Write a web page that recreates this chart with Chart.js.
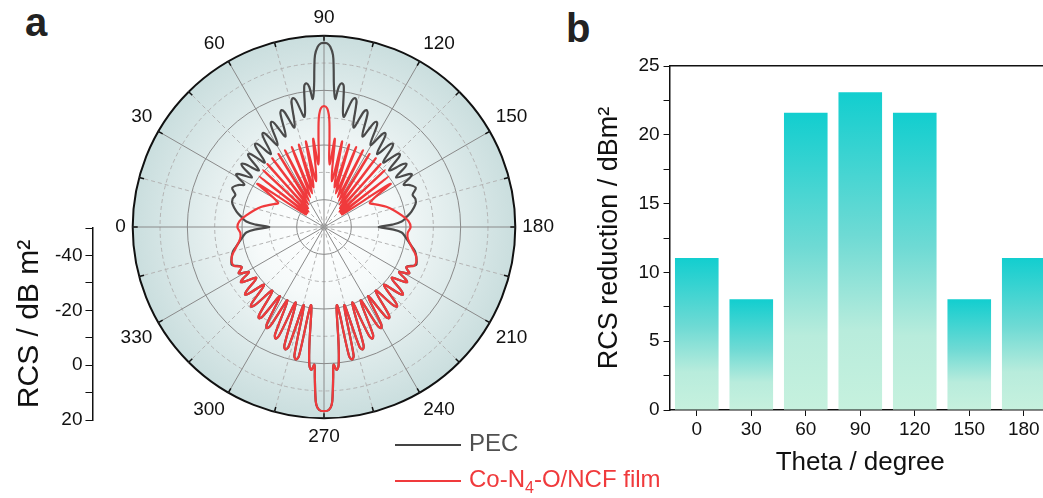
<!DOCTYPE html>
<html>
<head>
<meta charset="utf-8">
<script src="https://cdn.jsdelivr.net/npm/chart.js@4"></script>
<style>
  body { margin: 0; width: 1043px; height: 498px; overflow: hidden; background: #fff; font-family: 'Liberation Sans', Arial, sans-serif; }
  canvas { position: absolute; }
  .panel { position: absolute; font-weight: bold; font-size: 40px; color: #222; }
  .leg { position: absolute; left: 395px; font-size: 24px; line-height: 28px; white-space: nowrap; }
  .leg .ln { display: inline-block; width: 66px; height: 2px; vertical-align: middle; margin-right: 8px; }
  .leg sub { font-size: 16px; vertical-align: -6px; line-height: 0; }
</style>
</head>
<body>
<div class="panel" style="left:25px;top:0px">a</div>
<div class="panel" style="left:566px;top:6px">b</div>
<canvas id="polar" width="460" height="460" style="left:105px;top:-2px"></canvas>
<canvas id="side" width="220" height="245" style="left:0px;top:200px"></canvas>
<canvas id="bars" width="480" height="450" style="left:580px;top:40px"></canvas>
<div class="leg" style="top:429px"><span class="ln" style="background:#444"></span><span style="color:#505050">PEC</span></div>
<div class="leg" style="top:465px"><span class="ln" style="background:#f03a3c"></span><span style="color:#f03a3c">Co-N<sub>4</sub>-O/NCF film</span></div>

<script>
Chart.defaults.font.family = "'Liberation Sans', Arial, sans-serif";
Chart.defaults.color = '#111';

// polar panel (a)
const thetaTicks = [0, 30, 60, 90, 120, 150, 180, 210, 240, 270, 300, 330];
const rcsMin = -50;
const rcsMax = 20;
const rcsLabelled = [-40, -20, 0, 20];

// Co-N4-O/NCF film, points as [theta deg, RCS dB m2]
const filmUpperLeft = [
  [0, -18.3], [4, -19], [8, -21], [13, -23.5], [18, -26], [23, -29], [28, -31],
  [33, -21], [35.5, -42], [38, -20], [40.5, -42], [43, -19.5], [45.5, -42], [48, -19], [50.5, -41],
  [53, -18.5], [55.5, -40], [58, -18.5], [60.5, -39], [63, -18.5], [65.5, -38], [68, -18.5], [70.5, -37],
  [73, -18.5], [75.5, -35], [78, -18], [80.5, -33], [83, -17.5], [85, -27],
  [86.5, -17], [87, -12], [87.5, -9], [88.5, -6.5], [90, -5.8]
];
const filmUpperRight = [
  [91.5, -6.5], [92.5, -9], [93, -12], [93.5, -17], [95, -27], [97, -17.5], [99.5, -33], [102, -18],
  [104.5, -35], [107, -18.5], [109.5, -37], [112, -18.5], [114.5, -38], [117, -18.5], [119.5, -39],
  [122, -18.5], [124.5, -40], [127, -18.5], [129.5, -41], [132, -19], [134.5, -42], [137, -19.5],
  [139.5, -42], [142, -20], [144.5, -42], [147, -21],
  [152, -31], [157, -29], [162, -26], [167, -23.5], [172, -21], [176, -19], [180, -18.3]
];
const filmLowerRight = [
  [184, -19.3], [188, -19], [193, -17], [198, -14.5], [203, -14], [206, -16.5], [208.5, -14.5], [211, -18],
  [212.5, -14.8], [213.5, -13.5], [214.5, -14.8], [217, -19],
  [219.5, -13.3], [220.5, -12], [221.5, -13.3], [224, -19.5],
  [226.5, -11.8], [227.5, -10.5], [228.5, -11.8], [231, -20],
  [233.5, -10.3], [234.5, -9], [235.5, -10.3], [237.5, -20],
  [239.5, -8.8], [240.5, -7.5], [241.5, -8.8], [243.5, -20],
  [245.5, -6.8], [246.5, -5.5], [247.5, -6.8], [249.5, -20.5],
  [251.5, -4.3], [252.5, -3], [253.5, -4.3], [255.5, -20.5],
  [257, -1.8], [258, -0.5], [259, -1.8], [260.5, -21],
  [263, -6], [264, 1], [265, 2.5], [266, 0.5], [266.5, 5], [267, 11], [267.5, 15], [268.5, 17], [270, 17.4]
];
const filmLowerLeft = [
  [271.5, 17], [272.5, 15], [273, 11], [273.5, 5], [274, 0.5], [275, 2.5], [276, 1], [277, -6],
  [279.5, -21], [281, -1.8], [282, -0.5], [283, -1.8],
  [284.5, -20.5], [286.5, -4.3], [287.5, -3], [288.5, -4.3],
  [290.5, -20.5], [292.5, -6.8], [293.5, -5.5], [294.5, -6.8],
  [296.5, -20], [298.5, -8.8], [299.5, -7.5], [300.5, -8.8],
  [302.5, -20], [304.5, -10.3], [305.5, -9], [306.5, -10.3],
  [309, -20], [311.5, -11.8], [312.5, -10.5], [313.5, -11.8],
  [316, -19.5], [318.5, -13.3], [319.5, -12], [320.5, -13.3],
  [323, -19], [325.5, -14.8], [326.5, -13.5], [327.5, -14.8],
  [329, -18], [331.5, -14.5], [334, -16.5], [337, -14], [342, -14.5], [347, -17], [352, -19], [356, -19.3]
];

// PEC, read off the grey curve where it is not hidden under the red one
const pecUpperLeft = [
  [0, -30], [2, -25], [4, -21.5], [7, -19.5], [10, -17.5], [14, -15.5], [17, -15], [20, -15.5], [23, -13.5], [26, -15], [28, -17],
  [30, -13.5], [31, -12.5], [32, -13.5], [34.5, -18],
  [36.5, -13], [37.5, -12], [38.5, -13], [41, -18.5],
  [43, -12.5], [44, -11.5], [45, -12.5], [47.5, -18],
  [49.5, -11.5], [50.5, -10.5], [51.5, -11.5], [54, -17],
  [56, -10], [57, -9], [58, -10], [60.5, -15.5],
  [62.5, -8], [63.5, -7], [64.5, -8], [67, -14],
  [69, -5.5], [70, -4.5], [71, -5.5], [73.5, -12],
  [75.5, -2.5], [76.5, -1.5], [77.5, -2.5], [80, -9],
  [82, 2], [83, 3], [84, 1.5], [85, -3],
  [86, 2], [86.5, 8], [87, 13], [88, 16], [89, 17.2], [90, 17.4]
];
const pecUpperRight = [
  [91, 17.2], [92, 16], [93, 13], [93.5, 8], [94, 2],
  [95, -3], [96, 1.5], [97, 3], [98, 2],
  [100, -9], [102.5, -2.5], [103.5, -1.5], [104.5, -2.5],
  [106.5, -12], [109, -5.5], [110, -4.5], [111, -5.5],
  [113, -14], [115.5, -8], [116.5, -7], [117.5, -8],
  [119.5, -15.5], [122, -10], [123, -9], [124, -10],
  [126, -17], [128.5, -11.5], [129.5, -10.5], [130.5, -11.5],
  [132.5, -18], [135, -12.5], [136, -11.5], [137, -12.5],
  [139, -18.5], [141.5, -13], [142.5, -12], [143.5, -13],
  [145.5, -18], [148, -13.5], [149, -12.5], [150, -13.5],
  [152, -17], [154, -15], [157, -13.5], [160, -15.5], [163, -15], [166, -15.5], [170, -17.5], [173, -19.5], [176, -21.5], [178, -25], [180, -30]
];
const pecLowerSides = [
  [182, -25], [184, -21.5], [187, -20], [191, -18], [195, -15.5], [199, -14.2], [202, -13.5],
  [338, -13.5], [341, -14.2], [345, -15.5], [349, -18], [353, -20], [356, -21.5], [358, -25]
];
// between these angles the PEC trace runs under the red one
const pecHiddenFrom = 203;
const pecHiddenTo = 337;

// bar panel (b)
const barTheta = ['0', '30', '60', '90', '120', '150', '180'];
const barReduction = [11.05, 8.05, 21.6, 23.1, 21.6, 8.05, 11.05];

const STEP = 0.5;
const slotCount = 360 / STEP;
const angleLabels = Array.from({ length: slotCount }, (_, i) => i * STEP);

function toSlots(points) {
  const out = new Array(slotCount).fill(null);
  points.forEach(([d, v]) => { out[Math.round(d / STEP) % slotCount] = v; });
  return out;
}

const filmPoints = [...filmUpperLeft, ...filmUpperRight, ...filmLowerRight, ...filmLowerLeft];
const pecPoints = [...pecUpperLeft, ...pecUpperRight, ...pecLowerSides,
  ...filmPoints.filter(([d]) => d >= pecHiddenFrom && d <= pecHiddenTo)];

const polarDecor = {
  id: 'polarDecor',
  beforeDraw(chart) {
    const s = chart.scales.r;
    const ctx = chart.ctx;
    const g = ctx.createRadialGradient(s.xCenter, s.yCenter, 0, s.xCenter, s.yCenter, s.drawingArea);
    g.addColorStop(0, '#ffffff');
    g.addColorStop(0.35, '#f6fafa');
    g.addColorStop(1, '#cadede');
    ctx.save();
    ctx.beginPath();
    ctx.arc(s.xCenter, s.yCenter, s.drawingArea, 0, Math.PI * 2);
    ctx.fillStyle = g;
    ctx.fill();
    ctx.restore();
  },
  afterDraw(chart) {
    const s = chart.scales.r;
    const ctx = chart.ctx;
    ctx.save();
    ctx.strokeStyle = '#111';
    ctx.lineWidth = 1.5;
    for (let d = 0; d < 360; d += 15) {
      const a = s.getPointPosition(d / STEP, s.drawingArea);
      const b = s.getPointPosition(d / STEP, s.drawingArea - 5);
      ctx.beginPath();
      ctx.moveTo(a.x, a.y);
      ctx.lineTo(b.x, b.y);
      ctx.stroke();
    }
    ctx.restore();
  }
};

new Chart(document.getElementById('polar'), {
  type: 'radar',
  data: {
    labels: angleLabels,
    datasets: [
      { label: 'PEC', data: toSlots(pecPoints), borderColor: '#4a4a4a', borderWidth: 2.2, order: 1 },
      { label: 'Co-N4-O/NCF film', data: toSlots(filmPoints), borderColor: '#f03a3c', borderWidth: 2.2, order: 0 }
    ]
  },
  options: {
    responsive: false,
    animation: false,
    events: [],
    plugins: { legend: { display: false }, tooltip: { enabled: false } },
    elements: {
      point: { radius: 0 },
      line: { tension: 0.35, fill: false, spanGaps: true }
    },
    datasets: { radar: { spanGaps: true } },
    scales: {
      r: {
        min: rcsMin,
        max: rcsMax,
        startAngle: 270,
        ticks: { display: false, stepSize: 10 },
        grid: {
          circular: true,
          color: c => c.tick.value === rcsMax ? '#111' : (rcsLabelled.includes(c.tick.value) ? '#8a8a8a' : '#b4b4b4'),
          lineWidth: c => c.tick.value === rcsMax ? 2 : 1
        },
        border: {
          dash: c => (c.tick && !rcsLabelled.includes(c.tick.value)) ? [4, 3] : []
        },
        angleLines: {
          color: c => c.index % (30 / STEP) === 0 ? '#8a8a8a' : '#b4b4b4',
          lineWidth: c => c.index % (15 / STEP) === 0 ? 1 : 0,
          borderDash: c => c.index % (30 / STEP) === 0 ? [] : [4, 3]
        },
        pointLabels: {
          padding: 7,
          color: '#111',
          font: { size: 19 },
          callback: label => thetaTicks.includes(label) ? String(label) : ''
        }
      }
    }
  },
  plugins: [polarDecor]
});

// radial axis drawn beside the polar plot
new Chart(document.getElementById('side'), {
  type: 'scatter',
  data: { datasets: [{ data: [] }] },
  options: {
    responsive: false,
    animation: false,
    events: [],
    layout: { padding: { top: 28, bottom: 25, left: 12, right: 6 } },
    plugins: { legend: { display: false }, tooltip: { enabled: false } },
    scales: {
      x: { display: false },
      y: {
        min: rcsMin,
        max: rcsMax,
        reverse: true,
        border: { color: '#111', width: 1.5 },
        grid: { drawOnChartArea: false, drawTicks: true, tickLength: 7, tickColor: '#111' },
        ticks: {
          stepSize: 10,
          font: { size: 19 },
          color: '#111',
          callback: v => rcsLabelled.includes(v) ? String(v) : ''
        },
        title: { display: true, text: 'RCS / dB m²', font: { size: 30 }, color: '#111', padding: { top: 0, bottom: 4 } }
      }
    }
  }
});

function barFill(c) {
  const chart = c.chart;
  if (!chart.chartArea) return '#14cfcf';
  const y = chart.scales.y;
  const top = y.getPixelForValue(barReduction[c.dataIndex]);
  const bottom = y.getPixelForValue(0);
  const g = chart.ctx.createLinearGradient(0, top, 0, bottom);
  g.addColorStop(0, 'rgb(18,206,207)');
  g.addColorStop(0.45, 'rgb(110,218,212)');
  g.addColorStop(0.75, 'rgb(184,236,220)');
  g.addColorStop(1, 'rgb(198,241,222)');
  return g;
}

new Chart(document.getElementById('bars'), {
  type: 'bar',
  data: {
    labels: barTheta,
    datasets: [{ data: barReduction, backgroundColor: barFill, barPercentage: 0.8, categoryPercentage: 1 }]
  },
  options: {
    responsive: false,
    animation: false,
    events: [],
    layout: { padding: { top: 26, right: 9, left: 11, bottom: 8 } },
    plugins: { legend: { display: false }, tooltip: { enabled: false } },
    scales: {
      x: {
        border: { color: '#111', width: 1.5 },
        grid: { offset: false, drawOnChartArea: false, drawTicks: true, tickLength: 6, tickColor: '#111' },
        ticks: { font: { size: 19 }, color: '#111', padding: 2 },
        title: { display: true, text: 'Theta / degree', font: { size: 26 }, color: '#111' }
      },
      x2: {
        type: 'linear', position: 'top', min: 0, max: 1,
        border: { color: '#111', width: 1.5 },
        grid: { display: false, drawTicks: false },
        ticks: { display: false }
      },
      y: {
        min: 0,
        max: 25,
        border: { color: '#111', width: 1.5 },
        grid: { drawOnChartArea: false, drawTicks: true, tickLength: 6, tickColor: '#111' },
        ticks: {
          stepSize: 2.5,
          font: { size: 19 },
          color: '#111',
          padding: 4,
          callback: v => v % 5 === 0 ? String(v) : ''
        },
        title: { display: true, text: 'RCS reduction / dBm²', font: { size: 27 }, color: '#111', padding: { top: 2, bottom: 9 } }
      }
    }
  }
});
</script>
</body>
</html>
